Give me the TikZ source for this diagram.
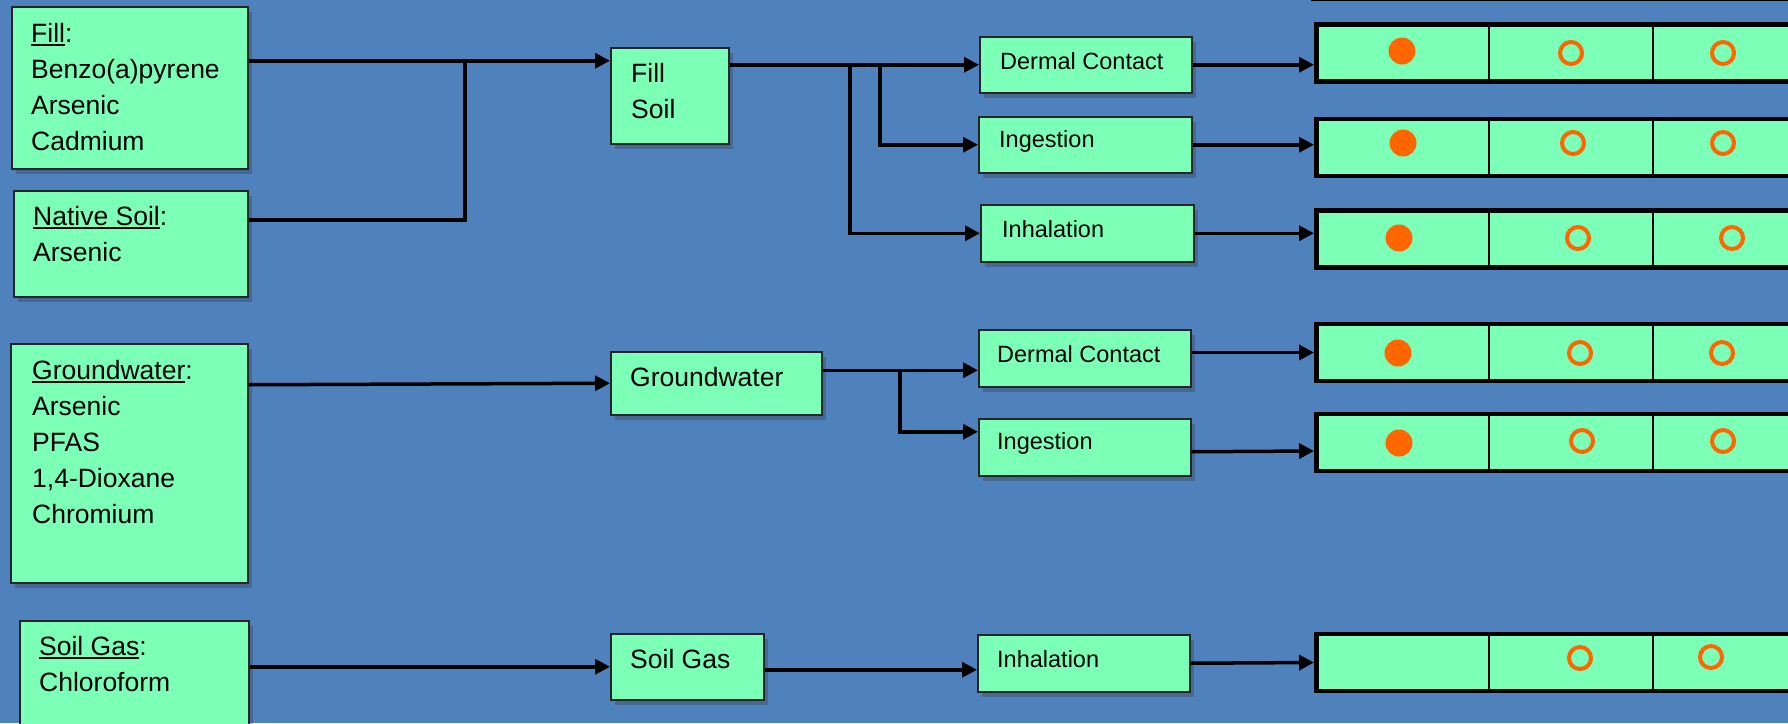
\documentclass[tikz,border=0pt]{standalone}
\usepackage{fontspec}
\setmainfont{Liberation Sans}
\usetikzlibrary{arrows.meta,shadows}
\definecolor{slide}{RGB}{79,129,189}
\definecolor{mint}{RGB}{124,255,182}
\definecolor{dotorange}{RGB}{255,102,0}
\newcommand{\srcname}[1]{\setbox0=\hbox{#1}\rlap{\rule[-3.5pt]{\wd0}{1.8pt}}\box0}
\tikzset{
  box/.style={draw=black!85, line width=1.5pt, fill=mint, anchor=north west, inner sep=0pt,
    drop shadow={shadow xshift=4pt, shadow yshift=-5pt, opacity=0.3, fill=black!80}},
  lbl/.style={anchor=north west, inner sep=0pt, align=left, font=\fontsize{26.5}{36}\selectfont},
  small/.style={anchor=north west, inner sep=0pt, font=\fontsize{23.5}{28}\selectfont},
  link/.style={line width=3.5pt, black},
  arr/.style={link, -{Triangle[length=15pt,width=15pt]}},
  rowbox/.style={draw=black, line width=4.5pt, fill=mint, anchor=west, minimum width=500pt,
    minimum height=57pt, inner sep=0pt},
  divider/.style={line width=1.5pt, black},
  fulldot/.style={circle, fill=dotorange, minimum size=27pt, inner sep=0pt},
  opendot/.style={circle, draw=dotorange, line width=4pt, minimum size=22pt, inner sep=0pt},
}
\begin{document}
\begin{tikzpicture}[x=1pt, y=-1pt]
   \useasboundingbox[fill=slide] (0,0) rectangle (1788,723);
   \clip (0,0) rectangle (1788,723);

   % Sources
   \node[box, minimum width=236pt, minimum height=162pt] (fill) at (11,6) {};
   \node[lbl] (fillT) at (31,23) {\srcname{Fill}:\\Benzo(a)pyrene\\Arsenic\\Cadmium};
   \node[box, minimum width=234pt, minimum height=106pt] (native) at (13,190) {};
   \node[lbl] (nativeT) at (33,206) {\srcname{Native Soil}:\\Arsenic};
   \node[box, minimum width=237pt, minimum height=239pt] (gwsrc) at (10,343) {};
   \node[lbl] (gwsrcT) at (32,360) {\srcname{Groundwater}:\\Arsenic\\PFAS\\1,4-Dioxane\\Chromium};
   \node[box, minimum width=229pt, minimum height=120pt] (gassrc) at (19,620) {};
   \node[lbl] (gassrcT) at (39,636) {\srcname{Soil Gas}:\\Chloroform};

   % Media
   \node[box, minimum width=118pt, minimum height=96pt] (fillsoil) at (610,47) {};
   \node[lbl] (fillsoilT) at (631,63) {Fill\\Soil};
   \node[box, minimum width=211pt, minimum height=63pt] (gw) at (610,351) {};
   \node[lbl] (gwT) at (630,367) {Groundwater};
   \node[box, minimum width=153pt, minimum height=66pt] (gas) at (610,633) {};
   \node[lbl] (gasT) at (630,649) {Soil Gas};

   % Exposure routes
   \node[box, minimum width=212pt, minimum height=56pt] (derm1) at (979,36) {};
   \node[small] (derm1T) at (1000,52.5) {Dermal Contact};
   \node[box, minimum width=213pt, minimum height=56pt] (ing1) at (978,116) {};
   \node[small] (ing1T) at (999,130.5) {Ingestion};
   \node[box, minimum width=213pt, minimum height=57pt] (inh1) at (980,204) {};
   \node[small] (inh1T) at (1002,220.5) {Inhalation};
   \node[box, minimum width=212pt, minimum height=57pt] (derm2) at (978,329) {};
   \node[small] (derm2T) at (997,345.5) {Dermal Contact};
   \node[box, minimum width=212pt, minimum height=57pt] (ing2) at (978,418) {};
   \node[small] (ing2T) at (997,432.5) {Ingestion};
   \node[box, minimum width=212pt, minimum height=57pt] (inh3) at (977,634) {};
   \node[small] (inh3T) at (997,650) {Inhalation};

   % Receptor rows
   \draw[line width=2pt] (1311,0) -- (1788,0);
   \foreach \r/\y in {1/53, 2/147.5, 3/239, 4/352.5, 5/442.5, 6/662.5} {
      \node[rowbox] (r\r) at (1314,\y) {};
      \draw[divider] (r\r.north -| 1489,0) -- (r\r.south -| 1489,0);
      \draw[divider] (r\r.north -| 1653,0) -- (r\r.south -| 1653,0);
   }
   \foreach \n/\x/\y in {1/1402/51, 2/1403/143, 3/1399/238, 4/1398/353, 5/1399/443} {
      \node[fulldot] (f\n) at (\x,\y) {};
   }
   \foreach \n/\x/\y in {1a/1571/53, 1b/1723/53, 2a/1573/143, 2b/1723/143, 3a/1578/238, 3b/1732/238,
                         4a/1580/353, 4b/1722/353, 5a/1582/441, 5b/1723/441, 6a/1580/658, 6b/1711/657} {
      \node[opendot] (o\n) at (\x,\y) {};
   }

   % Connectors
   \coordinate (fj) at (465,60);
   \draw[arr] ([yshift=27pt]fill.east) -- ([yshift=35pt]fillsoil.west);
   \draw[link] ([yshift=24pt]native.east) -| (fj);
   \coordinate (fsa) at (850,64);
   \coordinate (fsb) at (880,64);
   \draw[arr] (fillsoil.east |- derm1.west) -- (derm1.west);
   \draw[arr] (fsb) |- (ing1.west);
   \draw[arr] (fsa) |- (inh1.west);

   \coordinate (gj) at (900,369.5);
   \draw[arr] ([yshift=78.5pt]gwsrc.east) -- (gw.west);
   \draw[arr] ([yshift=13pt]gw.east) -- ([yshift=-12pt]derm2.west);
   \draw[arr] (gj) |- ([yshift=15.5pt]ing2.west);

   \draw[arr] (gassrc.east |- gas.west) -- (gas.west);
   \draw[arr] ([yshift=-3pt]gas.east) -- ([yshift=-6.5pt]inh3.west);

   \draw[arr] (derm1.east) -- (derm1.east -| r1.west);
   \draw[arr] (ing1.east) -- (ing1.east -| r2.west);
   \draw[arr] (inh1.east) -- (inh1.east -| r3.west);
   \draw[arr] (r4.west -| derm2.east) -- (r4.west);
   \draw[arr] ([yshift=-4.5pt]ing2.east) -- ([yshift=-8.5pt]r5.west);
   \draw[arr] (inh3.east) -- (r6.west);
\end{tikzpicture}
\end{document}
